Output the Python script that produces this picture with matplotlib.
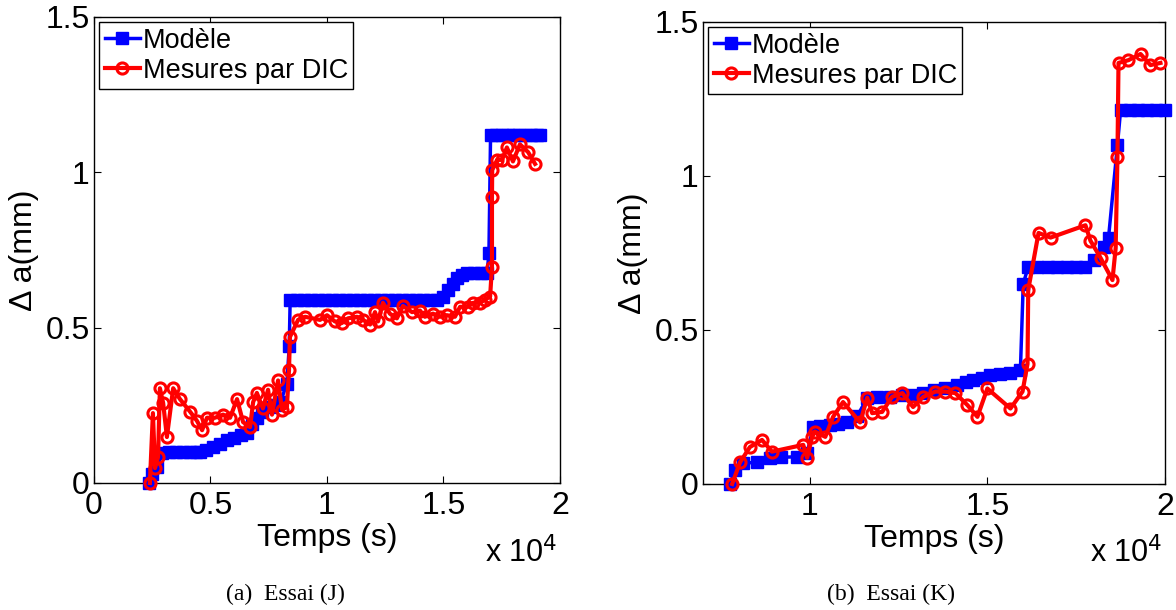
import numpy as np
import matplotlib
matplotlib.use('Agg')
import matplotlib.pyplot as plt

plt.rcParams['font.family'] = ['Liberation Sans', 'DejaVu Sans']

# --- Essai (J) ---
t_mod_J = [2360, 2500, 2700, 2920, 3200, 3500, 3800, 4100, 4400, 4550, 4800, 5100,
           5400, 5700, 6000, 6300, 6570, 6800, 7000, 7200, 7500, 7800, 8000, 8280,
           8380, 8420, 8700, 9000, 9300, 9600, 9900, 10200, 10500, 10800, 11100,
           11400, 11700, 12000, 12300, 12600, 12900, 13200, 13500, 13800, 14100,
           14400, 14700, 15000, 15200, 15400, 15600, 15800, 16000, 16300, 16600,
           16870, 16950, 17020, 17250, 17500, 17750, 18000, 18250, 18500, 18750,
           19000, 19140]
a_mod_J = [0.0, 0.03, 0.05, 0.097, 0.1, 0.1, 0.1, 0.1, 0.1, 0.1, 0.105, 0.115,
           0.125, 0.14, 0.145, 0.155, 0.16, 0.19, 0.21, 0.23, 0.245, 0.25, 0.26, 0.32,
           0.44, 0.59, 0.59, 0.59, 0.59, 0.59, 0.59, 0.59, 0.59, 0.59, 0.59,
           0.59, 0.59, 0.59, 0.59, 0.59, 0.59, 0.59, 0.59, 0.59, 0.59,
           0.59, 0.59, 0.6, 0.62, 0.64, 0.66, 0.67, 0.675, 0.675, 0.675,
           0.675, 0.74, 1.12, 1.12, 1.12, 1.12, 1.12, 1.12, 1.12, 1.12,
           1.12, 1.12]

t_dic_J = [2400, 2530, 2620, 2750, 2830, 2970, 3130, 3400, 3690, 4120, 4420, 4640,
           4850, 5190, 5540, 5840, 6140, 6400, 6700, 6830, 6990, 7250, 7470, 7640,
           7900, 8070, 8280, 8370, 8410, 8760, 9060, 9700, 10000, 10340, 10640,
           10900, 11290, 11550, 11850, 12060, 12190, 12400, 12700, 13000, 13260,
           13650, 13990, 14200, 14550, 14850, 15150, 15490, 15710, 16050, 16270,
           16570, 16780, 17000, 17080, 17080, 17090, 17300, 17510, 17720, 17980,
           18280, 18630, 18930]
a_dic_J = [0.0, 0.225, 0.048, 0.084, 0.305, 0.257, 0.148, 0.305, 0.27, 0.23, 0.2, 0.17,
           0.21, 0.21, 0.22, 0.21, 0.27, 0.196, 0.18, 0.26, 0.29, 0.24, 0.30, 0.22,
           0.33, 0.235, 0.245, 0.365, 0.47, 0.525, 0.535, 0.525, 0.54, 0.52, 0.515,
           0.53, 0.535, 0.525, 0.51, 0.55, 0.52, 0.58, 0.545, 0.53, 0.57,
           0.55, 0.555, 0.535, 0.545, 0.535, 0.54, 0.535, 0.567, 0.567, 0.58,
           0.58, 0.59, 0.60, 0.695, 0.92, 1.007, 1.04, 1.04, 1.08, 1.035,
           1.09, 1.065, 1.027]

# --- Essai (K) ---
t_mod_K = [7760, 7900, 8130, 8520, 8890, 9200, 9650, 9930, 10100, 10300, 10580,
           10800, 11060, 11340, 11620, 11900, 12270, 12600, 12900, 13200, 13500,
           13800, 14150, 14400, 14600, 14850, 15080, 15350, 15650, 15930, 16010,
           16150, 16400, 16700, 16970, 17250, 17500, 17760, 17990, 18270, 18410,
           18660, 18750, 19000, 19250, 19500, 19750, 20000]
a_mod_K = [0.0, 0.045, 0.068, 0.07, 0.085, 0.087, 0.088, 0.1, 0.185, 0.187, 0.19,
           0.195, 0.2, 0.22, 0.28, 0.282, 0.283, 0.288, 0.29, 0.295, 0.305,
           0.312, 0.32, 0.33, 0.338, 0.345, 0.354, 0.356, 0.36, 0.37, 0.65,
           0.705, 0.705, 0.705, 0.705, 0.705, 0.705, 0.705, 0.727, 0.77, 0.80,
           1.10, 1.215, 1.215, 1.215, 1.215, 1.215, 1.215]

t_dic_K = [7820, 8040, 8320, 8660, 8940, 9820, 9930, 10070, 10150, 10440, 10660,
           10940, 11420, 11620, 11760, 12040, 12320, 12610, 12910, 13200, 13540,
           13820, 14100, 14440, 14720, 15000, 15650, 15990, 16130, 16150, 16440,
           16780, 17760, 17900, 18190, 18520, 18610, 18660, 18690, 18970, 19310,
           19590, 19870]
a_dic_K = [0.0, 0.07, 0.12, 0.143, 0.105, 0.127, 0.085, 0.153, 0.17, 0.153, 0.218,
           0.266, 0.2, 0.28, 0.23, 0.234, 0.283, 0.295, 0.25, 0.283, 0.3,
           0.3, 0.295, 0.256, 0.218, 0.31, 0.245, 0.3, 0.39, 0.63, 0.815,
           0.80, 0.84, 0.79, 0.733, 0.662, 0.766, 1.06, 1.367, 1.376, 1.396,
           1.36, 1.367]

panels = [
    (t_mod_J, a_mod_J, t_dic_J, a_dic_J, (0, 20000), [0, 5000, 10000, 15000, 20000],
     ['0', '0.5', '1', '1.5', '2'], [0.0799, 0.2082, 0.3963, 0.764], '(a)  Essai (J)', 0.2425),
    (t_mod_K, a_mod_K, t_dic_K, a_dic_K, (7000, 20000), [10000, 15000, 20000],
     ['1', '1.5', '2'], [0.5978, 0.2066, 0.3929, 0.7574], '(b)  Essai (K)', 0.758),
]

fig = plt.figure(figsize=(11.76, 6.10), dpi=100)

for tm, am, td, ad, xlim, xt, xtl, pos, cap, capx in panels:
    ax = fig.add_axes(pos)
    ax.plot(tm, am, '-s', color='blue', lw=2.5, ms=9, mfc='blue', mec='blue',
            label='Modèle', clip_on=False, zorder=3)
    ax.plot(td, ad, '-o', color='red', lw=3, ms=8, mfc='none', mec='red', mew=2.2,
            label='Mesures par DIC', clip_on=False, zorder=4)
    ax.set_xlim(*xlim)
    ax.set_ylim(0, 1.5)
    ax.set_xticks(xt)
    ax.set_xticklabels(xtl)
    ax.set_yticks([0, 0.5, 1, 1.5])
    ax.set_yticklabels(['0', '0.5', '1', '1.5'])
    ax.tick_params(direction='in', top=True, right=True, length=5, width=0.8,
                   labelsize=23)
    ax.tick_params(axis='y', pad=3)
    ax.tick_params(axis='x', pad=6)
    for s in ax.spines.values():
        s.set_linewidth(1.0)
    ax.set_xlabel('Temps (s)', fontsize=23, labelpad=1)
    ax.set_ylabel('Δ a(mm)', fontsize=23, labelpad=5)
    ax.text(0.995, -0.115, 'x 10$^{4}$', transform=ax.transAxes, ha='right', va='top',
            fontsize=22)
    leg = ax.legend(loc='upper left', fontsize=19.5, handlelength=1.3, handletextpad=0.1,
                    borderpad=0.2, labelspacing=0.15, borderaxespad=0.2,
                    fancybox=False, framealpha=1, edgecolor='black', numpoints=1)
    leg.get_frame().set_linewidth(1.0)
    fig.text(capx, 0.008, cap, ha='center', va='bottom', fontsize=17,
             family=['Liberation Serif', 'DejaVu Serif'])

fig.savefig('out.png', dpi=100)
